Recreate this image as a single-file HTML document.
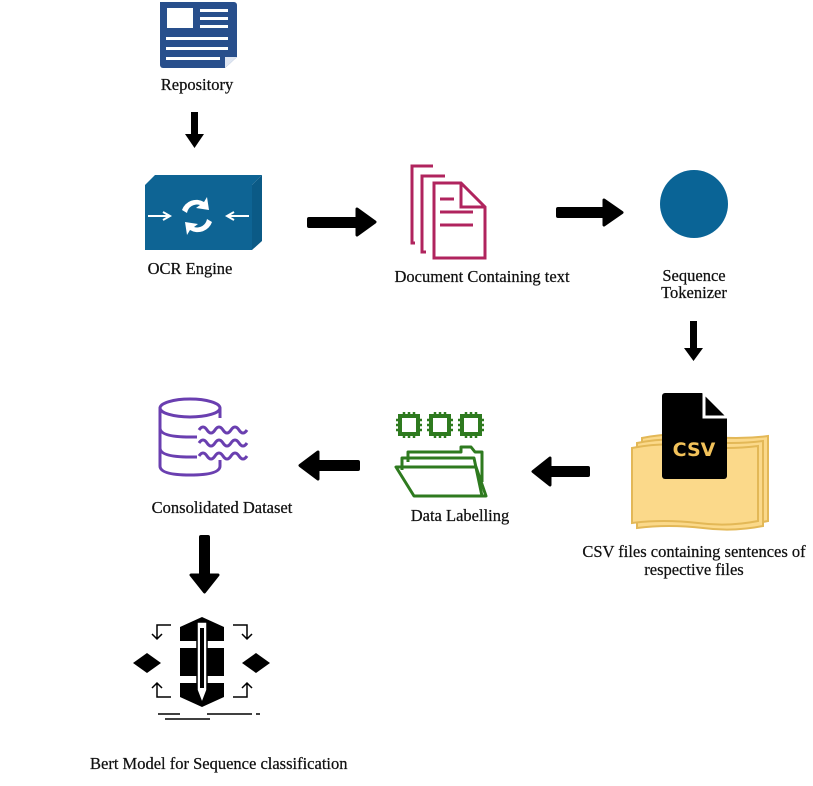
<!DOCTYPE html>
<html><head><meta charset="utf-8"><style>
html,body{margin:0;padding:0;background:#fff;}
svg{display:block;}
text{font-family:"Liberation Serif",serif;font-size:16.5px;fill:#111;stroke:#111;stroke-width:0.25;}
</style></head><body>
<svg width="813" height="786" viewBox="0 0 813 786" xmlns="http://www.w3.org/2000/svg">
<defs>
<g id="chip"><rect x="-9" y="-9" width="18" height="18" fill="none" stroke="#2e7a1f" stroke-width="4"/>
<path d="M-5,-9v-4M0,-9v-4M5,-9v-4M-5,9v4M0,9v4M5,9v4M-9,-5h-4M-9,0h-4M-9,5h-4M9,-5h4M9,0h4M9,5h4" stroke="#2e7a1f" stroke-width="2.5"/></g>
</defs>
<!-- Repository -->
<path d="M160,2 h74 a3,3 0 0 1 3,3 v52 l-12,11 h-62 a3,3 0 0 1 -3,-3 z" fill="#284f8c"/>
<path d="M225,68 l12,-11 h-12 z" fill="#dfe6f2"/>
<rect x="167" y="8" width="26" height="20" fill="#fff"/>
<rect x="200" y="9" width="28" height="3" fill="#fff"/><rect x="200" y="17" width="28" height="3" fill="#fff"/><rect x="200" y="25" width="28" height="3" fill="#fff"/>
<rect x="166" y="37" width="62" height="3" fill="#fff"/><rect x="166" y="47" width="62" height="3" fill="#fff"/><rect x="166" y="57" width="54" height="3" fill="#fff"/>
<text x="197" y="90" text-anchor="middle">Repository</text>
<!-- arrow down -->
<rect x="191" y="112" width="7" height="24" fill="#000"/><path d="M185,134 h19 l-9.5,14 z" fill="#000"/>
<!-- OCR -->
<path d="M145,185 l10,-10 h107 l-10,10 z" fill="#0e6494"/>
<path d="M252,185 l10,-10 v66 l-10,9 z" fill="#0b5a86"/>
<rect x="145" y="185" width="107" height="65" fill="#0e6494"/>
<path d="M148,216 h22 M163,212 l7,4 -7,4" stroke="#fff" stroke-width="2" fill="none"/>
<path d="M249,216 h-22 M234,212 l-7,4 7,4" stroke="#fff" stroke-width="2" fill="none"/>
<path d="M182,210 a15,15 0 0 1 22,-8 l3,-5 2,13 -13,-2 4,-3 a10,10 0 0 0 -13,8 z M212,222 a15,15 0 0 1 -22,8 l-3,5 -2,-13 13,2 -4,3 a10,10 0 0 0 13,-8 z" fill="#fff"/>
<text x="190" y="274" text-anchor="middle">OCR Engine</text>
<!-- arrow right -->
<rect x="307" y="217" width="52" height="11" rx="2" fill="#000"/><path d="M357,209 l18,13 -18,13 z" fill="#000" stroke="#000" stroke-linejoin="round" stroke-width="3"/>
<!-- Documents -->
<g fill="none" stroke="#b0245e" stroke-width="3">
<path d="M433,166 h-21 v77 h3"/><path d="M445,176 h-23 v76 h4"/>
<path d="M434,183 h27 l24,24 v51 h-51 z"/><path d="M461,183 v24 h24"/>
<path d="M440,199 h14 M440,212 h33 M440,225 h33"/></g>
<text x="482" y="282" text-anchor="middle">Document Containing text</text>
<!-- arrow right 2 -->
<rect x="556" y="207" width="50" height="11" rx="2" fill="#000"/><path d="M604,200 l18,12.5 -18,12.5 z" fill="#000" stroke="#000" stroke-linejoin="round" stroke-width="3"/>
<!-- circle -->
<circle cx="694" cy="204" r="34" fill="#0a6496"/>
<text x="694" y="281" text-anchor="middle">Sequence</text>
<text x="694" y="298" text-anchor="middle">Tokenizer</text>
<!-- arrow down -->
<rect x="690" y="321" width="7" height="30" fill="#000"/><path d="M684,348 h19 l-9.5,13 z" fill="#000"/>
<!-- CSV -->
<g fill="#fbd98a" stroke="#e3b857" stroke-width="2">
<path d="M642,438 q30,-6 60,-2 q35,4 66,0 v85 q-30,6 -60,2 q-35,-4 -66,0 z"/>
<path d="M637,443 q30,-6 60,-2 q35,4 66,0 v85 q-30,6 -60,2 q-35,-4 -66,0 z"/>
<path d="M632,448 q30,-6 60,-2 q35,4 66,0 v75 q-30,6 -60,2 q-35,-4 -66,0 z"/></g>
<path d="M665,393 h37 l25,25 v58 a3,3 0 0 1 -3,3 h-59 a3,3 0 0 1 -3,-3 v-80 a3,3 0 0 1 3,-3 z" fill="#000"/>
<path d="M704,393 v24 h23" fill="none" stroke="#fff" stroke-width="3"/>
<text x="694" y="456" text-anchor="middle" style="font-family:'DejaVu Sans',sans-serif;font-weight:bold;font-size:19px;fill:#f2c25a;stroke:none">CSV</text>
<text x="694" y="557" text-anchor="middle">CSV files containing sentences of</text>
<text x="694" y="575" text-anchor="middle">respective files</text>
<!-- arrow left -->
<rect x="548" y="466" width="42" height="11" rx="2" fill="#000"/><path d="M550,458 l-17,13.5 17,13.5 z" fill="#000" stroke="#000" stroke-linejoin="round" stroke-width="3"/>
<!-- Data labelling -->
<use href="#chip" x="409" y="425"/><use href="#chip" x="440" y="425"/><use href="#chip" x="471" y="425"/>
<g fill="none" stroke="#2e7a1f" stroke-width="3" stroke-linejoin="round">
<path d="M408,462 v-10 h53 v-5 h10 l4,5 h7 v30"/>
<path d="M402,470 v-12 h72 l8,38"/>
<path d="M396,467 h80 l10,29 h-72 z"/></g>
<text x="460" y="521" text-anchor="middle">Data Labelling</text>
<!-- arrow left 2 -->
<rect x="316" y="460" width="44" height="11" rx="2" fill="#000"/><path d="M318,452 l-18,13.5 18,13.5 z" fill="#000" stroke="#000" stroke-linejoin="round" stroke-width="3"/>
<!-- Database -->
<g fill="none" stroke="#6a3fb0" stroke-width="3">
<ellipse cx="190" cy="408" rx="30" ry="9"/>
<path d="M160,408 v58 q0,9 30,9 q30,0 30,-9 v-6"/>
<path d="M220,408 v10"/>
<path d="M160,428 q0,9 30,9 h7 M160,448 q0,9 30,9 h7"/>
<path d="M199,430 q4,-6 8,0 t8,0 t8,0 t8,0 t8,0 t8,0 M199,443 q4,-6 8,0 t8,0 t8,0 t8,0 t8,0 t8,0 M199,456 q4,-6 8,0 t8,0 t8,0 t8,0 t8,0 t8,0"/></g>
<text x="222" y="513" text-anchor="middle">Consolidated Dataset</text>
<!-- arrow down -->
<rect x="199" y="535" width="11" height="42" rx="2" fill="#000"/><path d="M191,575 h27 l-13.5,17 z" fill="#000" stroke="#000" stroke-linejoin="round" stroke-width="3"/>
<!-- Bert -->
<g fill="#000">
<path d="M180,627 l22,-10 22,10 v14 h-44 z"/>
<rect x="180" y="648" width="44" height="28"/>
<path d="M180,683 h44 v14 l-22,10 -22,-10 z"/>
<path d="M133,663 l14,-10 14,10 -14,10 z"/><path d="M242,663 l14,-10 14,10 -14,10 z"/></g>
<g fill="none" stroke="#000" stroke-width="1.5">
<path d="M171,625 h-14 v13 M152,634 l5,5 5,-5"/>
<path d="M233,625 h14 v13 M242,634 l5,5 5,-5"/>
<path d="M171,697 h-14 v-13 M152,688 l5,-5 5,5"/>
<path d="M233,697 h14 v-13 M242,688 l5,-5 5,5"/>
<path d="M158,714 h22 M207,714 h45 M256,714 h4 M165,719 h45"/></g>
<path d="M197,622 h10 v68 l-5,13 -5,-13 z" fill="#fff" stroke="#000" stroke-width="1.5"/>
<path d="M200,628 h4 v60 h-4 z" fill="#000"/>
<text x="90" y="769">Bert Model for Sequence classification</text>
</svg>
</body></html>
